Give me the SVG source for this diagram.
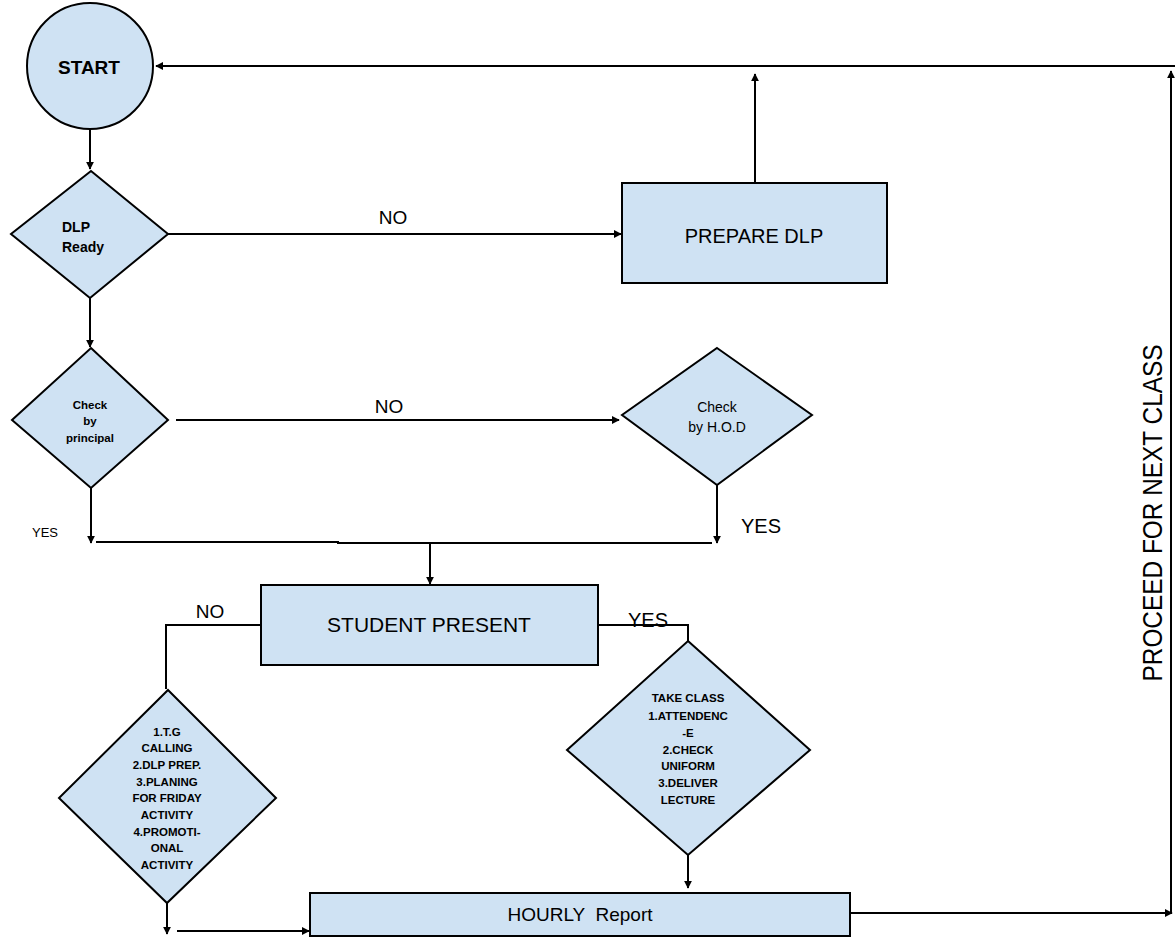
<svg xmlns="http://www.w3.org/2000/svg" width="1175" height="938" viewBox="0 0 1175 938">
<style>
.n{fill:#cfe2f3;stroke:#000;stroke-width:2}
.c{fill:none;stroke:#000;stroke-width:2}
text{font-family:"Liberation Sans",Arial,sans-serif;fill:#000;text-anchor:middle}
.s{font-size:11.5px;font-weight:bold}
</style>
<defs>
<marker id="a" viewBox="0 0 10 10" refX="9" refY="5" markerWidth="4" markerHeight="4" orient="auto" markerUnits="strokeWidth">
<path d="M0,0L10,5L0,10z" fill="#000"/>
</marker>
</defs>
<g id="connectors">
<path class="c" d="M90,128V169" marker-end="url(#a)"/>
<path class="c" d="M168,234H621" marker-end="url(#a)"/>
<path class="c" d="M755,183V74" marker-end="url(#a)"/>
<path class="c" d="M1175,66H156" marker-end="url(#a)"/>
<path class="c" d="M90,298V347" marker-end="url(#a)"/>
<path class="c" d="M176,420H619" marker-end="url(#a)"/>
<path class="c" d="M91,488V543" marker-end="url(#a)"/>
<path class="c" d="M717,485V543" marker-end="url(#a)"/>
<path class="c" d="M96,542H338V543H712"/>
<path class="c" d="M430,542V584" marker-end="url(#a)"/>
<path class="c" d="M261,625H166V689"/>
<path class="c" d="M598,625H689"/>
<path class="c" d="M688,625V641"/>
<path class="c" d="M167,903V934" marker-end="url(#a)"/>
<path class="c" d="M177,931H309" marker-end="url(#a)"/>
<path class="c" d="M688,855V888" marker-end="url(#a)"/>
<path class="c" d="M850,913H1172" marker-end="url(#a)"/>
<path class="c" d="M1171,912V71" marker-end="url(#a)"/>
<text x="393" y="224" style="font-size:19px">NO</text>
<text x="389" y="413" style="font-size:19px">NO</text>
<text x="45" y="537" style="font-size:13px">YES</text>
<text x="761" y="533" style="font-size:20px">YES</text>
<text x="210" y="618" style="font-size:19px">NO</text>
<text x="648" y="627" style="font-size:20px">YES</text>
<text transform="translate(1162,513) rotate(-90)" style="font-size:27px" textLength="337" lengthAdjust="spacingAndGlyphs">PROCEED FOR NEXT CLASS</text>
</g>
<g id="start">
<circle class="n" cx="90" cy="66" r="63"/>
<text x="89" y="74" style="font-size:19px;font-weight:bold">START</text>
</g>
<g id="dlp-ready">
<path class="n" d="M91,171L168,234L90,298L11,234Z"/>
<text x="62" y="232" style="font-size:14px;font-weight:bold;text-anchor:start">DLP</text>
<text x="62" y="252" style="font-size:14px;font-weight:bold;text-anchor:start">Ready</text>
</g>
<g id="prepare-dlp">
<rect class="n" x="622" y="183" width="265" height="100"/>
<text x="754" y="243" style="font-size:20px">PREPARE DLP</text>
</g>
<g id="check-principal">
<path class="n" d="M91,348L168,420L91,488L12,420Z"/>
<text class="s" x="90" y="409">Check</text>
<text class="s" x="90" y="425">by</text>
<text class="s" x="90" y="442">principal</text>
</g>
<g id="check-hod">
<path class="n" d="M717,348L812,415L717,485L622,415Z"/>
<text x="717" y="412" style="font-size:14px">Check</text>
<text x="717" y="432" style="font-size:14px">by H.O.D</text>
</g>
<g id="student-present">
<rect class="n" x="261" y="585" width="337" height="80"/>
<text x="429" y="632" style="font-size:21px">STUDENT PRESENT</text>
</g>
<g id="no-activities">
<path class="n" d="M168,690L276,798L167,903L59,798Z"/>
<text class="s" x="167" y="736">1.T.G</text>
<text class="s" x="167" y="752">CALLING</text>
<text class="s" x="167" y="769">2.DLP PREP.</text>
<text class="s" x="167" y="786">3.PLANING</text>
<text class="s" x="167" y="802">FOR FRIDAY</text>
<text class="s" x="167" y="819">ACTIVITY</text>
<text class="s" x="167" y="836">4.PROMOTI-</text>
<text class="s" x="167" y="852">ONAL</text>
<text class="s" x="167" y="869">ACTIVITY</text>
</g>
<g id="take-class">
<path class="n" d="M688,641L810,750L688,855L567,750Z"/>
<text class="s" x="688" y="702">TAKE CLASS</text>
<text class="s" x="688" y="720">1.ATTENDENC</text>
<text class="s" x="688" y="737">-E</text>
<text class="s" x="688" y="754">2.CHECK</text>
<text class="s" x="688" y="770">UNIFORM</text>
<text class="s" x="688" y="787">3.DELIVER</text>
<text class="s" x="688" y="804">LECTURE</text>
</g>
<g id="hourly-report">
<rect class="n" x="310" y="893" width="540" height="43"/>
<text x="580" y="921" style="font-size:19px;white-space:pre" xml:space="preserve">HOURLY  Report</text>
</g>
</svg>
